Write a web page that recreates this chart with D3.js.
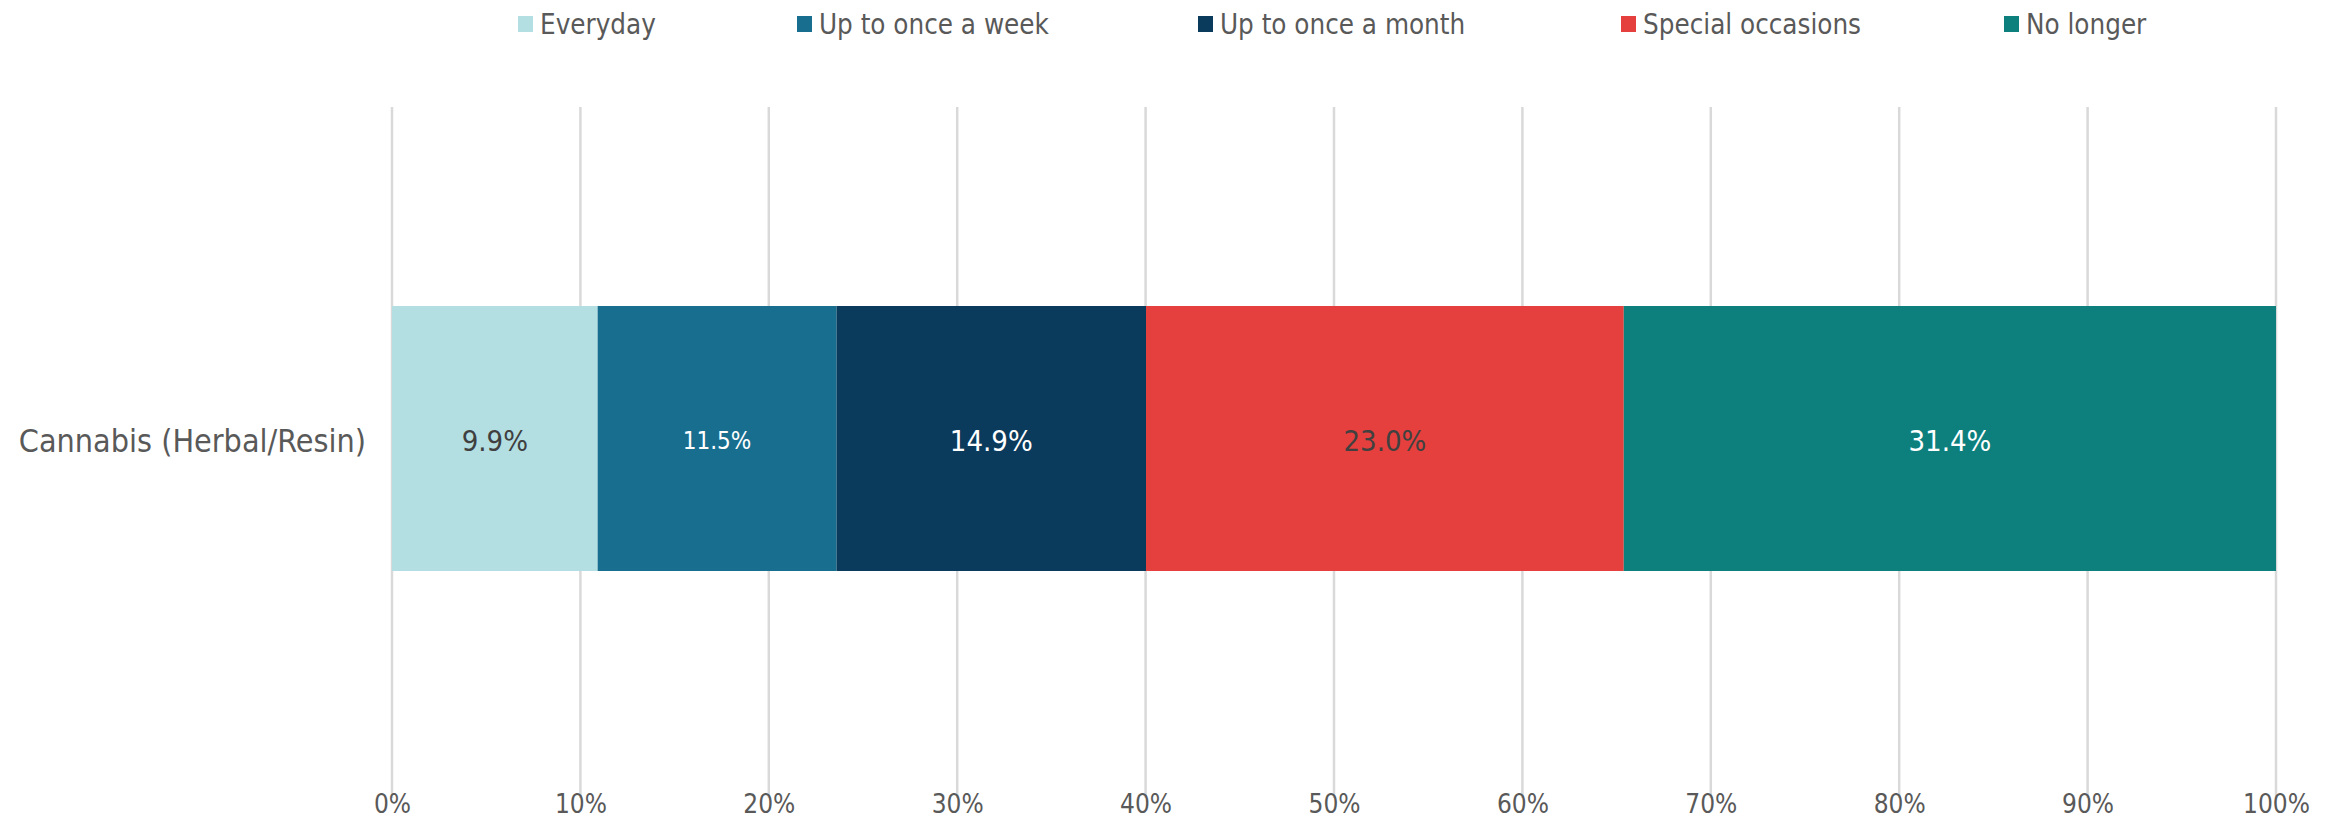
<!DOCTYPE html>
<html><head><meta charset="utf-8">
<script src="https://cdn.jsdelivr.net/npm/d3@7"></script>
<style>body{margin:0;background:#fff}svg{display:block}</style>
</head><body>
<svg id="c" width="2336" height="822"></svg>
<script>
const categories = ["Cannabis (Herbal/Resin)"];
const seriesNames = ["Everyday","Up to once a week","Up to once a month","Special occasions","No longer"];
const seriesValues = [9.9, 11.5, 14.9, 23.0, 31.4];
const seriesColors = ["#b3dfe3","#176e8f","#0a3a5c","#e5403d","#0d807e"];
const labelColors = ["#404040","#ffffff","#ffffff","#404040","#ffffff"];
const labelSizes = [29, 24, 29, 29, 29];
const tickValues = [0,10,20,30,40,50,60,70,80,90,100];

const FONT = "'DejaVu Sans Condensed','DejaVu Sans',sans-serif";
const svg = d3.select("#c");
const W = 2336, H = 822;
const m = {left:392, right:W-2276, top:107, bottom:H-798};
const x = d3.scaleLinear().domain([0,100]).range([m.left, W-m.right]);

// gridlines
svg.append("g").selectAll("line").data(tickValues).join("line")
  .attr("x1",d=>x(d)).attr("x2",d=>x(d)).attr("y1",m.top).attr("y2",H-m.bottom)
  .attr("stroke","#d9d9d9").attr("stroke-width",2.5);

// x axis labels
const ax = svg.append("g").attr("transform",`translate(0,${H-m.bottom})`)
  .call(d3.axisBottom(x).tickValues(tickValues).tickFormat(d=>d+"%").tickSize(0).tickPadding(0));
ax.select(".domain").remove();
ax.selectAll("text").attr("font-family",FONT).attr("font-size",26).attr("fill","#595959").attr("dy","0").attr("y",15);

// stacked data
const total = d3.sum(seriesValues);
const rows = [];
let acc = 0;
seriesValues.forEach((v,i)=>{ const p=v/total*100; rows.push({i,v,x0:acc,x1:acc+p}); acc+=p; });

const cat = categories[0];
const yb = d3.scaleLinear().domain([0,1]).range([306,571]);
svg.append("g").selectAll("rect").data(rows).join("rect")
  .attr("x",d=>x(d.x0)).attr("width",d=>x(d.x1)-x(d.x0))
  .attr("y",yb(0)).attr("height",yb(1)-yb(0))
  .attr("fill",d=>seriesColors[d.i]);

svg.append("g").selectAll("text").data(rows).join("text")
  .attr("x",d=>(x(d.x0)+x(d.x1))/2).attr("y",yb(0.5)+2)
  .attr("text-anchor","middle").attr("dominant-baseline","central")
  .attr("font-family",FONT).attr("font-size",d=>labelSizes[d.i])
  .attr("fill",d=>labelColors[d.i])
  .text(d=>d.v.toFixed(1)+"%");

// category label
svg.append("text").attr("x",x(0)-26).attr("y",yb(0.5)+2).attr("text-anchor","end")
  .attr("dominant-baseline","central").attr("font-family",FONT).attr("font-size",32)
  .attr("fill","#595959").text(cat);

// legend
const legendX = [518, 797, 1198, 1621, 2004];
const lg = svg.append("g").selectAll("g").data(seriesNames).join("g")
  .attr("transform",(d,i)=>`translate(${legendX[i]},24)`);
lg.append("rect").attr("x",0).attr("y",-8).attr("width",15).attr("height",16).attr("fill",(d,i)=>seriesColors[i]);
lg.append("text").attr("x",22).attr("y",0).attr("dominant-baseline","central")
  .attr("font-family",FONT).attr("font-size",27.5).attr("fill","#595959").text(d=>d);
</script>
</body></html>
